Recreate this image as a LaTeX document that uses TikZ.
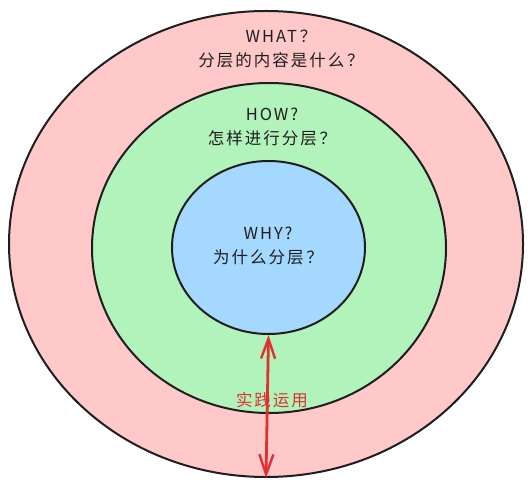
\documentclass[tikz,border=0pt]{standalone}
\usepackage{fontspec}
\setmainfont{Noto Sans CJK SC}[LetterSpace=12]
\usetikzlibrary{shapes.geometric,arrows.meta}
\definecolor{strokec}{HTML}{1E1E1E}
\definecolor{pinkc}{HTML}{FFC9C9}
\definecolor{greenc}{HTML}{B2F2BB}
\definecolor{bluec}{HTML}{A5D8FF}
\definecolor{redc}{HTML}{E03131}
\tikzset{
  ring/.style={ellipse, draw=strokec, line width=2pt, inner sep=0pt},
  lbl/.style={align=center, text=strokec, font=\fontsize{16.5}{24}\selectfont},
  redlbl/.style={text=redc, font=\fontsize{16.5}{24}\selectfont},
  redarrow/.style={draw=redc, line width=2.8pt, line cap=round,
    {Straight Barb[length=20pt,width=14pt,line width=2.4pt]}-{Straight Barb[length=20pt,width=14pt,line width=2.4pt]}}
}
\begin{document}
\begin{tikzpicture}[x=1pt,y=1pt]
\useasboundingbox (0,0) rectangle (532,487);
\node[ring, fill=pinkc, minimum width=514pt, minimum height=466pt] (outer) at (266,243) {};
\node[ring, fill=greenc, minimum width=354pt, minimum height=330pt] (green) at (269,239) {};
\node[ring, fill=bluec, minimum width=193pt, minimum height=173pt] (blue) at (268.5,239.5) {};
\node[lbl] (what) at (281,438) {WHAT\,？\\分层的内容是什么\,？};
\node[lbl] (how) at (272,360) {HOW?\\怎样进行分层\,？};
\node[lbl] (why) at (268,241) {WHY?\\为什么分层\,？};
\node[redlbl] (use) at (272,87) {实践运用};
\draw[redarrow] (blue.south) -- (outer.south);
\end{tikzpicture}
\end{document}
